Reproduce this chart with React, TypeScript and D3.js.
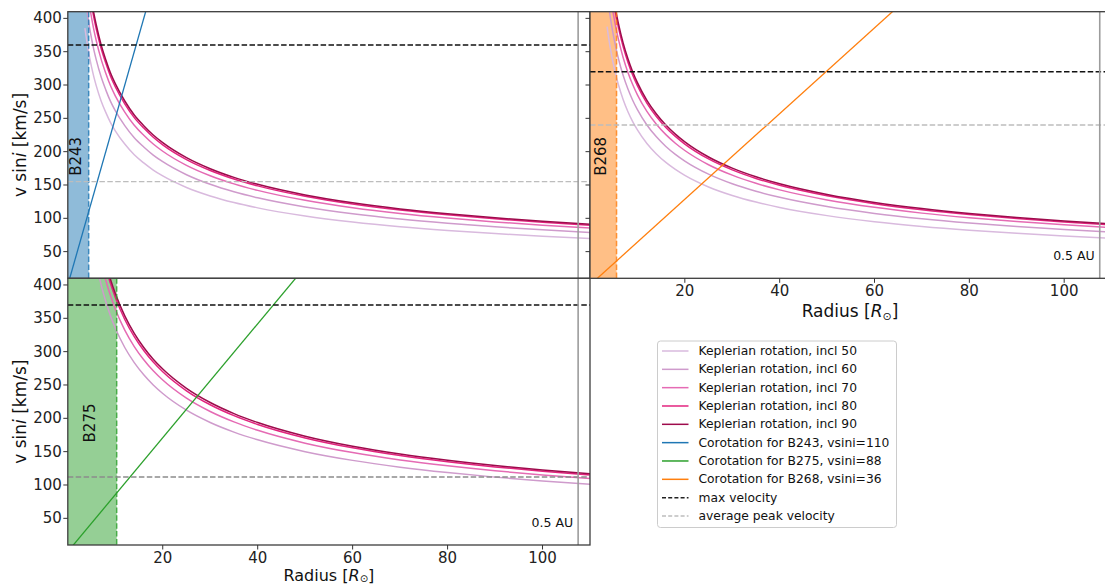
import React from "react";
import * as d3 from "d3";

// Radii (in solar radii) at which the edge-on Keplerian velocity was sampled
const sampleRadii = [3.6, 4, 4.5, 5, 5.5, 6, 7, 8, 9, 10, 12, 14, 16, 18, 20, 25, 30, 35, 40, 50, 60, 70, 80, 90, 100, 110];

// Edge-on (incl 90) Keplerian velocity in km/s for each star
const edgeOnB243 = [503, 478, 450, 427, 407, 390, 361, 338, 318, 302, 276, 255, 239, 225, 213.5, 191, 174.4, 161.4, 151, 135.1, 123.3, 114.1, 106.8, 100.7, 95.5, 91.1];
const edgeOnB268 = [506, 480, 452.6, 429.3, 409.4, 392, 362.8, 339.4, 320, 303.6, 277.1, 256.6, 240, 226.3, 214.7, 192, 175.3, 162.3, 151.8, 135.8, 123.9, 114.7, 107.3, 101.2, 96, 91.5];
const edgeOnB275 = [646, 612.5, 577.5, 547.8, 522.3, 500.1, 463, 433.1, 408.3, 387.4, 353.6, 327.4, 306.3, 288.7, 273.9, 245, 223.7, 207.1, 193.7, 173.2, 158.1, 146.4, 137, 129.1, 122.5, 116.8];

// Inclinations drawn in each panel (degrees)
const inclinations = [50, 60, 70, 80, 90];
const inclB243 = [50, 60, 70, 80, 90];
const inclB268 = [50, 60, 70, 80, 90];
const inclB275 = [60, 70, 80, 90];
const inclColors = ["#d9bade", "#cf9bcc", "#e56bb4", "#e3247f", "#9e0b4c"];

// Stars
const starNames = ["B243", "B268", "B275"];
const starVsini = [110, 36, 88];
const starRadius = [4.4, 5.6, 10.3];
const starColors = ["#1f77b4", "#ff7f0e", "#2ca02c"];
const starShades = ["#8fbbd9", "#ffbf86", "#95cf95"];
const maxVelocity = [360, 320, 370];
const avgPeakVelocity = [155, 240, 112];
const avgPeakColors = ["#bdbdbd", "#bdbdbd", "#8c8c8c"];

const halfAU = 107.5; // 0.5 AU in solar radii
const xDomain = [0, 110];
const yDomain = [10, 410];
const xTicks = [20, 40, 60, 80, 100];
const yTicks = [50, 100, 150, 200, 250, 300, 350, 400];

const legendLabels = [
  "Keplerian rotation, incl 50",
  "Keplerian rotation, incl 60",
  "Keplerian rotation, incl 70",
  "Keplerian rotation, incl 80",
  "Keplerian rotation, incl 90",
  "Corotation for B243, vsini=110",
  "Corotation for B275, vsini=88",
  "Corotation for B268, vsini=36",
  "max velocity",
  "average peak velocity",
];

const FONT = "DejaVu Sans, Verdana, sans-serif";
const DASH = "5.5,2.4";

type PanelSpec = {
  idx: number;
  edgeOn: number[];
  incl: number[];
  x0: number;
  x1: number;
  y0: number;
  y1: number;
  yLabels: boolean;
  xAxis: boolean;
  auLabel: boolean;
  xLabelDy: number;
  xLabelSize: number;
  subDy: number;
  subSize: number;
};

function Panel({ p }: { p: PanelSpec }) {
  const x = d3.scaleLinear().domain(xDomain).range([p.x0, p.x1]);
  const y = d3.scaleLinear().domain(yDomain).range([p.y1, p.y0]);
  const name = starNames[p.idx];
  const clipId = `clip-${name}`;
  const line = d3
    .line<[number, number]>()
    .x((d) => x(d[0]))
    .y((d) => y(d[1]))
    .curve(d3.curveMonotoneX);

  const rStar = starRadius[p.idx];
  const vs = starVsini[p.idx];
  const corot: [number, number][] = [
    [0, 0],
    [xDomain[1], (vs * xDomain[1]) / rStar],
  ];
  const midY = (p.y0 + p.y1) / 2;
  const midX = (p.x0 + p.x1) / 2;

  return (
    <g>
      <defs>
        <clipPath id={clipId}>
          <rect x={p.x0} y={p.y0} width={p.x1 - p.x0} height={p.y1 - p.y0} />
        </clipPath>
      </defs>
      <rect x={p.x0} y={p.y0} width={p.x1 - p.x0} height={p.y1 - p.y0} fill="#ffffff" />
      <g clipPath={`url(#${clipId})`}>
        <rect x={x(0)} y={p.y0} width={x(rStar) - x(0)} height={p.y1 - p.y0} fill={starShades[p.idx]} />
        {p.incl.map((inc) => {
          const ci = inclinations.indexOf(inc);
          const s = Math.sin((inc * Math.PI) / 180);
          const pts: [number, number][] = sampleRadii.map((r, i) => [r, p.edgeOn[i] * s]);
          return <path key={inc} d={line(pts) || ""} fill="none" stroke={inclColors[ci]} strokeWidth={1.5} />;
        })}
        <path d={line.curve(d3.curveLinear)(corot) || ""} fill="none" stroke={starColors[p.idx]} strokeWidth={1.3} />
        <line x1={x(rStar)} x2={x(rStar)} y1={p.y0} y2={p.y1} stroke={starColors[p.idx]} strokeWidth={1.5} strokeDasharray={DASH} opacity={0.8} />
        <line x1={p.x0} x2={p.x1} y1={y(maxVelocity[p.idx])} y2={y(maxVelocity[p.idx])} stroke="#111" strokeWidth={1.4} strokeDasharray={DASH} />
        <line x1={p.x0} x2={p.x1} y1={y(avgPeakVelocity[p.idx])} y2={y(avgPeakVelocity[p.idx])} stroke={avgPeakColors[p.idx]} strokeWidth={1.4} strokeDasharray={DASH} />
        <line x1={x(halfAU)} x2={x(halfAU)} y1={p.y0} y2={p.y1} stroke="#9c9c9c" strokeWidth={1.6} />
      </g>
      <text
        transform={`translate(${x(rStar / 2 - 0.4)},${y(193)}) rotate(-90)`}
        textAnchor="middle"
        dominantBaseline="central"
        fontFamily={FONT}
        fontSize={15}
        fill="#111"
      >
        {name}
      </text>
      {p.auLabel && (
        <text x={x(halfAU) - 5} y={p.y1 - 18.5} textAnchor="end" fontFamily={FONT} fontSize={12.5} fill="#111">
          0.5 AU
        </text>
      )}
      <rect x={p.x0} y={p.y0} width={p.x1 - p.x0} height={p.y1 - p.y0} fill="none" stroke="#3c3c3c" strokeWidth={1.3} />
      {yTicks.map((t) => (
        <g key={`y${t}`}>
          <line x1={p.x0 - 4.5} x2={p.x0} y1={y(t)} y2={y(t)} stroke="#333" strokeWidth={1} />
          {p.yLabels && (
            <text x={p.x0 - 6} y={y(t)} textAnchor="end" dominantBaseline="central" fontFamily={FONT} fontSize={15} fill="#222">
              {t}
            </text>
          )}
        </g>
      ))}
      {p.yLabels && (
        <text
          transform={`translate(20,${midY}) rotate(-90)`}
          textAnchor="middle"
          dominantBaseline="central"
          fontFamily={FONT}
          fontSize={17}
          fill="#111"
        >
          v sin<tspan fontStyle="italic">i</tspan> [km/s]
        </text>
      )}
      {p.xAxis &&
        xTicks.map((t) => (
          <g key={`x${t}`}>
            <line x1={x(t)} x2={x(t)} y1={p.y1} y2={p.y1 + 4.5} stroke="#333" strokeWidth={1} />
            <text x={x(t)} y={p.y1 + 17.5} textAnchor="middle" fontFamily={FONT} fontSize={15} fill="#222">
              {t}
            </text>
          </g>
        ))}
      {p.xAxis && (
        <text x={p.yLabels ? midX : 850} y={p.y1 + p.xLabelDy} textAnchor="middle" fontFamily={FONT} fontSize={p.xLabelSize} fill="#111">
          Radius [<tspan fontStyle="italic">R</tspan>
          <tspan dy={p.subDy} fontSize={p.subSize}>⊙</tspan>
          <tspan dy={-p.subDy}>]</tspan>
        </text>
      )}
    </g>
  );
}

function Legend() {
  const bx = 657.5;
  const by = 341;
  const rowH = 18.33;
  const lineStyles = [
    ...inclColors.map((c) => ({ color: c, dash: undefined as string | undefined })),
    { color: starColors[0], dash: undefined },
    { color: starColors[2], dash: undefined },
    { color: starColors[1], dash: undefined },
    { color: "#222", dash: "4,2.2" },
    { color: "#bdbdbd", dash: "4,2.2" },
  ];
  return (
    <g>
      <rect x={bx} y={by} width={239} height={186.5} rx={3} fill="#ffffff" fillOpacity={0.85} stroke="#cccccc" strokeWidth={1} />
      {legendLabels.map((lab, i) => {
        const cy = by + 10 + i * rowH;
        const st = lineStyles[i];
        return (
          <g key={lab}>
            <line x1={bx + 4.5} x2={bx + 31} y1={cy} y2={cy} stroke={st.color} strokeWidth={1.5} strokeDasharray={st.dash} />
            <text x={bx + 41} y={cy} dominantBaseline="central" fontFamily={FONT} fontSize={12.3} fill="#111">
              {lab}
            </text>
          </g>
        );
      })}
    </g>
  );
}

export default function App() {
  const left = 67.8;
  const mid = 590;
  const right = 1111.6;
  const top = 11.7;
  const midY = 278.3;
  const bottom = 545;
  const panels: PanelSpec[] = [
    { idx: 0, edgeOn: edgeOnB243, incl: inclB243, x0: left, x1: mid, y0: top, y1: midY, yLabels: true, xAxis: false, auLabel: false, xLabelDy: 38.5, xLabelSize: 17, subDy: 3, subSize: 11 },
    { idx: 2, edgeOn: edgeOnB275, incl: inclB275, x0: left, x1: mid, y0: midY, y1: bottom, yLabels: true, xAxis: true, auLabel: true, xLabelDy: 35.5, xLabelSize: 16, subDy: 1, subSize: 10 },
    { idx: 1, edgeOn: edgeOnB268, incl: inclB268, x0: mid, x1: right, y0: top, y1: midY, yLabels: false, xAxis: true, auLabel: true, xLabelDy: 38.5, xLabelSize: 17, subDy: 3, subSize: 11 },
  ];
  return (
    <svg
      width={1105}
      height={584}
      viewBox="0 0 1105 584"
      style={{ position: "absolute", left: 0, top: 0, background: "#ffffff" }}
    >
      <rect x={0} y={0} width={1105} height={584} fill="#ffffff" />
      {panels.map((p) => (
        <Panel key={p.idx} p={p} />
      ))}
      <Legend />
    </svg>
  );
}
